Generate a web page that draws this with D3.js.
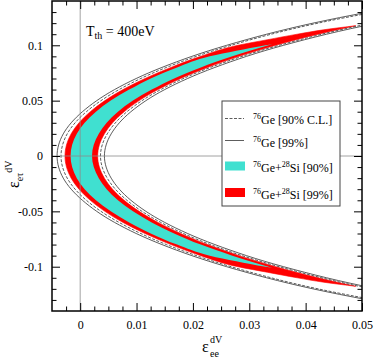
<!DOCTYPE html>
<html>
<head>
<meta charset="utf-8">
<script src="https://cdn.jsdelivr.net/npm/d3@7"></script>
<style>
  body { margin: 0; background: #fff; }
  svg { display: block; font-family: "Liberation Serif", "Times New Roman", serif; }
</style>
</head>
<body>
<div id="chart"></div>
<script>
// eps_etau values where the 76Ge contours were read
const geTau = [-0.14, -0.12, -0.10, -0.08, -0.06, -0.04, -0.02, 0, 0.02, 0.04, 0.06, 0.08, 0.10, 0.12, 0.14];
// eps_ee of each 76Ge contour at those eps_etau
const ge90Outer = [0.0635, 0.0422, 0.0268, 0.0153, 0.0069, 0.0011, -0.0023, -0.0034, -0.0023, 0.0011, 0.0069, 0.0153, 0.0268, 0.0422, 0.0635];
const ge90Inner = [0.0745, 0.0517, 0.0353, 0.0231, 0.0143, 0.0083, 0.0048, 0.0036, 0.0048, 0.0083, 0.0143, 0.0231, 0.0353, 0.0517, 0.0745];
const ge99Outer = [0.0620, 0.0413, 0.0260, 0.0145, 0.0061, 0.0004, -0.0030, -0.0041, -0.0030, 0.0004, 0.0061, 0.0145, 0.0260, 0.0413, 0.0620];
const ge99Inner = [0.0757, 0.0527, 0.0361, 0.0239, 0.0150, 0.0090, 0.0055, 0.0043, 0.0055, 0.0090, 0.0150, 0.0239, 0.0361, 0.0527, 0.0757];

// 76Ge+28Si 99% region (red)
const geSi99Tau = [-0.1177, -0.114, -0.11, -0.105, -0.10, -0.09, -0.08, -0.06, -0.04, -0.02, 0, 0.02, 0.04, 0.06, 0.08, 0.09, 0.10, 0.105, 0.11, 0.114, 0.1177];
const geSi99Outer = [0.0489, 0.0432, 0.0385, 0.0332, 0.0280, 0.0214, 0.0161, 0.0076, 0.0018, -0.0016, -0.0027, -0.0016, 0.0018, 0.0076, 0.0161, 0.0214, 0.0280, 0.0332, 0.0385, 0.0432, 0.0489];
const geSi99Inner = [0.0489, 0.0456, 0.0422, 0.0383, 0.0347, 0.0282, 0.0226, 0.0138, 0.0078, 0.0043, 0.0031, 0.0043, 0.0078, 0.0138, 0.0226, 0.0282, 0.0347, 0.0383, 0.0422, 0.0456, 0.0489];

// 76Ge+28Si 90% region (turquoise)
const geSi90Tau = [-0.101, -0.10, -0.095, -0.09, -0.08, -0.06, -0.04, -0.02, 0, 0.02, 0.04, 0.06, 0.08, 0.09, 0.095, 0.10, 0.101];
const geSi90Outer = [0.0341, 0.0329, 0.0277, 0.0230, 0.0172, 0.0087, 0.0028, -0.0006, -0.0017, -0.0006, 0.0028, 0.0087, 0.0172, 0.0230, 0.0277, 0.0329, 0.0341];
const geSi90Inner = [0.0341, 0.0334, 0.0301, 0.0270, 0.0214, 0.0127, 0.0067, 0.0033, 0.0021, 0.0033, 0.0067, 0.0127, 0.0214, 0.0270, 0.0301, 0.0334, 0.0341];

const xTicks = [0, 0.01, 0.02, 0.03, 0.04, 0.05];
const xTickLabels = ["0", "0.01", "0.02", "0.03", "0.04", "0.05"];
const yTicks = [-0.1, -0.05, 0, 0.05, 0.1];
const yTickLabels = ["-0.1", "-0.05", "0", "0.05", "0.1"];

const W = 374, H = 359;
const plotLeft = 52, plotRight = 362, plotTop = 1, plotBottom = 311;

const svg = d3.select("#chart").append("svg")
  .attr("width", W)
  .attr("height", H);

const x = d3.scaleLinear().domain([-0.005, 0.05]).range([plotLeft, plotRight]);
const y = d3.scaleLinear().domain([-0.14, 0.14]).range([plotBottom, plotTop]);

svg.append("clipPath").attr("id", "plot-clip")
  .append("rect")
  .attr("x", plotLeft).attr("y", plotTop)
  .attr("width", plotRight - plotLeft).attr("height", plotBottom - plotTop);

const plot = svg.append("g").attr("clip-path", "url(#plot-clip)");

// filled regions
const band = d3.area()
  .y(d => y(d.tau))
  .x0(d => x(d.outer))
  .x1(d => x(d.inner))
  .curve(d3.curveMonotoneY);

const red = geSi99Tau.map((t, i) => ({tau: t, outer: geSi99Outer[i], inner: geSi99Inner[i]}));
const cyan = geSi90Tau.map((t, i) => ({tau: t, outer: geSi90Outer[i], inner: geSi90Inner[i]}));

plot.append("path").datum(red)
  .attr("d", band)
  .attr("fill", "#ff0000")
  .attr("stroke", "#ff0000")
  .attr("stroke-width", 0.6);

plot.append("path").datum(cyan)
  .attr("d", band)
  .attr("fill", "#40e0d0");

// 76Ge contours
const contour = d3.line()
  .x(d => x(d[0]))
  .y(d => y(d[1]))
  .curve(d3.curveMonotoneY);

[[ge90Outer, true], [ge90Inner, true], [ge99Outer, false], [ge99Inner, false]].forEach(([xs, dashed]) => {
  plot.append("path")
    .datum(xs.map((v, i) => [v, geTau[i]]))
    .attr("d", contour)
    .attr("fill", "none")
    .attr("stroke", "#333")
    .attr("stroke-width", 0.8)
    .attr("stroke-dasharray", dashed ? "3,1.5" : null);
});

// zero lines
plot.append("line")
  .attr("x1", x(0)).attr("x2", x(0))
  .attr("y1", plotTop).attr("y2", plotBottom)
  .attr("stroke", "#8c8c8c").attr("stroke-width", 0.8);
plot.append("line")
  .attr("x1", plotLeft).attr("x2", plotRight)
  .attr("y1", y(0)).attr("y2", y(0))
  .attr("stroke", "#8c8c8c").attr("stroke-width", 0.8);

// axes with inward ticks
const notMajor = step => v => Math.abs(v / step - Math.round(v / step)) > 1e-6;
const xMinor = d3.range(-1, 20).map(k => k * 0.0025).filter(notMajor(0.01));
const yMinor = d3.range(-13, 14).map(k => k * 0.01).filter(notMajor(0.05));

function styleAxis(g) {
  g.select(".domain").remove();
  g.selectAll("line").attr("stroke", "#000").attr("stroke-width", 1);
  g.selectAll("text")
    .attr("font-family", "Liberation Serif, serif")
    .attr("font-size", 12)
    .attr("fill", "#000");
}

svg.append("g").attr("transform", `translate(0,${plotBottom})`)
  .call(d3.axisBottom(x).tickValues(xTicks).tickSize(-8).tickPadding(9).tickFormat((d, i) => xTickLabels[i]))
  .call(styleAxis);
svg.append("g").attr("transform", `translate(0,${plotBottom})`)
  .call(d3.axisBottom(x).tickValues(xMinor).tickSize(-4.5).tickFormat(""))
  .call(styleAxis);
svg.append("g").attr("transform", `translate(0,${plotTop})`)
  .call(d3.axisTop(x).tickValues(xTicks).tickSize(-8).tickFormat(""))
  .call(styleAxis);
svg.append("g").attr("transform", `translate(0,${plotTop})`)
  .call(d3.axisTop(x).tickValues(xMinor).tickSize(-4.5).tickFormat(""))
  .call(styleAxis);

svg.append("g").attr("transform", `translate(${plotLeft},0)`)
  .call(d3.axisLeft(y).tickValues(yTicks).tickSize(-8).tickPadding(9).tickFormat((d, i) => yTickLabels[i]))
  .call(styleAxis);
svg.append("g").attr("transform", `translate(${plotLeft},0)`)
  .call(d3.axisLeft(y).tickValues(yMinor).tickSize(-4.5).tickFormat(""))
  .call(styleAxis);
svg.append("g").attr("transform", `translate(${plotRight},0)`)
  .call(d3.axisRight(y).tickValues(yTicks).tickSize(-8).tickFormat(""))
  .call(styleAxis);
svg.append("g").attr("transform", `translate(${plotRight},0)`)
  .call(d3.axisRight(y).tickValues(yMinor).tickSize(-4.5).tickFormat(""))
  .call(styleAxis);

svg.append("rect")
  .attr("x", plotLeft).attr("y", plotTop)
  .attr("width", plotRight - plotLeft).attr("height", plotBottom - plotTop)
  .attr("fill", "none")
  .attr("stroke", "#000")
  .attr("stroke-width", 1.5);

// axis titles
const xTitle = svg.append("text").attr("x", 202).attr("y", 352).attr("fill", "#000");
xTitle.append("tspan").attr("font-size", 16).text("ε");
xTitle.append("tspan").attr("font-size", 10).attr("x", 210).attr("y", 343).text("dV");
xTitle.append("tspan").attr("font-size", 10).attr("x", 210).attr("y", 357).text("ee");

const yTitle = svg.append("text")
  .attr("transform", "translate(19,188) rotate(-90)")
  .attr("fill", "#000");
yTitle.append("tspan").attr("font-size", 16).text("ε");
yTitle.append("tspan").attr("font-size", 10).attr("dy", 4).text("eτ");
yTitle.append("tspan").attr("font-size", 10).attr("dy", -11).text("dV");

// threshold note
const note = svg.append("text").attr("x", 86).attr("y", 36).attr("fill", "#000").attr("font-size", 14);
note.append("tspan").text("T");
note.append("tspan").attr("font-size", 10).attr("dy", 3).text("th");
note.append("tspan").attr("dy", -3).text(" = 400eV");

// legend
const legend = svg.append("g");
legend.append("rect")
  .attr("x", 222).attr("y", 101)
  .attr("width", 118).attr("height", 105)
  .attr("fill", "#fff")
  .attr("stroke", "#444")
  .attr("stroke-width", 1);

const legendRows = [
  {kind: "dash", y: 118.5, base: 124, parts: [["76", "Ge [90% C.L.]"]]},
  {kind: "line", y: 140.5, base: 146.5, parts: [["76", "Ge [99%]"]]},
  {kind: "box", color: "#40e0d0", y: 166, base: 172, parts: [["76", "Ge+"], ["28", "Si [90%]"]]},
  {kind: "box", color: "#ff0000", y: 192.5, base: 198.5, parts: [["76", "Ge+"], ["28", "Si [99%]"]]}
];

legendRows.forEach(r => {
  if (r.kind === "box") {
    legend.append("rect")
      .attr("x", 225).attr("y", r.y - 4.5)
      .attr("width", 20).attr("height", 9)
      .attr("fill", r.color);
  } else {
    legend.append("line")
      .attr("x1", 225).attr("x2", 244)
      .attr("y1", r.y).attr("y2", r.y)
      .attr("stroke", "#333")
      .attr("stroke-width", 0.8)
      .attr("stroke-dasharray", r.kind === "dash" ? "3,1.5" : null);
  }
  const t = legend.append("text").attr("x", 253).attr("y", r.base).attr("fill", "#000").attr("font-size", 12);
  r.parts.forEach(([sup, txt]) => {
    t.append("tspan").attr("font-size", 8).attr("dy", -5).text(sup);
    t.append("tspan").attr("dy", 5).text(txt);
  });
});
</script>
</body>
</html>
